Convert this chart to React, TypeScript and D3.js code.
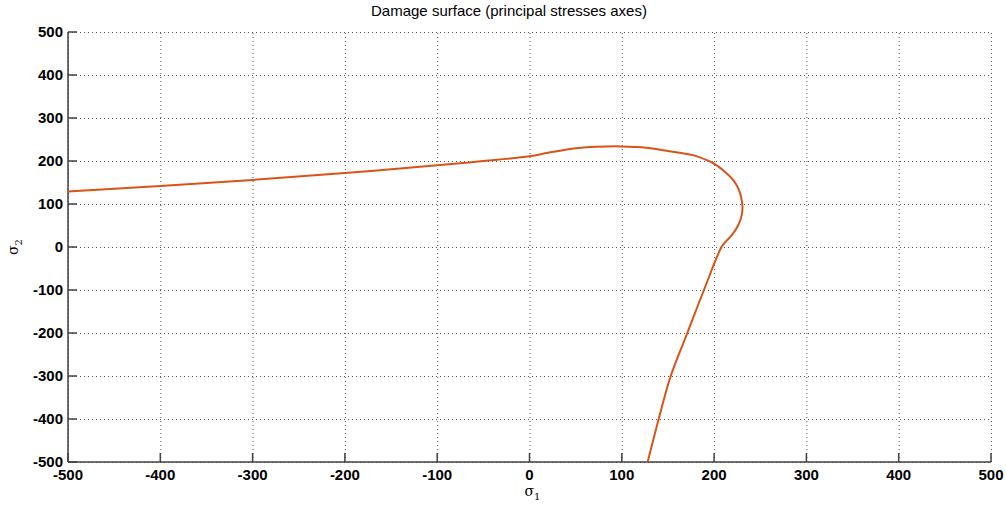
import React from "react";
import * as d3 from "d3";

// curve, from the left end round to the bottom
const sigma1 = [-500, -400, -300, -200, -100, -50, 0, 20, 48, 73, 99, 127, 142, 163, 178, 192, 199, 210, 221, 227, 230.5, 230, 226, 219, 212, 208, 189, 171, 153, 140, 128];
const sigma2 = [129, 142, 156, 172, 190, 200, 211, 219, 229, 233, 234, 231, 226, 219, 213, 202, 195, 178, 155, 132, 101, 74, 50, 27, 11, 0, -100, -200, -300, -400, -500];

const xTicks = [-500, -400, -300, -200, -100, 0, 100, 200, 300, 400, 500];
const yTicks = [-500, -400, -300, -200, -100, 0, 100, 200, 300, 400, 500];

const W = 1006;
const H = 506;
const margin = { top: 32, right: 15, bottom: 44, left: 68 };

export default function App() {
  const x = d3.scaleLinear().domain([-500, 500]).range([margin.left, W - margin.right]);
  const y = d3.scaleLinear().domain([-500, 500]).range([H - margin.bottom, margin.top]);

  const pts: [number, number][] = sigma1.map((s, i) => [s, sigma2[i]]);
  const line = d3
    .line<[number, number]>()
    .x((d) => x(d[0]))
    .y((d) => y(d[1]))
    .curve(d3.curveCatmullRom.alpha(0.5));

  const x0 = margin.left;
  const x1 = W - margin.right;
  const y0 = H - margin.bottom;
  const y1 = margin.top;
  const tickLen = 9;
  const font = "'Liberation Sans', Arial, sans-serif";

  return (
    <svg
      width={W}
      height={H}
      style={{ position: "absolute", left: 0, top: 0, background: "#fff" }}
    >
      {/* grid */}
      <g stroke="#555" strokeWidth={1} strokeDasharray="1,3">
        {xTicks.map((t) => (
          <line key={"gx" + t} x1={x(t) + 0.5} x2={x(t) + 0.5} y1={y0} y2={y1} />
        ))}
        {yTicks.map((t) => (
          <line key={"gy" + t} x1={x0} x2={x1} y1={y(t) + 0.5} y2={y(t) + 0.5} />
        ))}
      </g>

      {/* axes */}
      <g stroke="#404040" strokeWidth={1.5}>
        <line x1={x0} x2={x0} y1={y1} y2={y0} />
        <line x1={x0} x2={x1} y1={y0} y2={y0} />
        {xTicks.map((t) => (
          <line key={"tx" + t} x1={x(t)} x2={x(t)} y1={y0} y2={y0 - tickLen} />
        ))}
        {yTicks.map((t) => (
          <line key={"ty" + t} x1={x0} x2={x0 + tickLen} y1={y(t)} y2={y(t)} />
        ))}
      </g>

      {/* tick labels */}
      <g fontFamily={font} fontWeight="bold" fontSize={15} fill="#000">
        {xTicks.map((t) => (
          <text key={"lx" + t} x={x(t)} y={y0 + 18} textAnchor="middle">
            {t}
          </text>
        ))}
        {yTicks.map((t) => (
          <text key={"ly" + t} x={x0 - 5} y={y(t) + 5} textAnchor="end">
            {t}
          </text>
        ))}
      </g>

      {/* curve */}
      <path d={line(pts) ?? ""} fill="none" stroke="#D95319" strokeWidth={2} />

      {/* title */}
      <text
        x={509}
        y={16}
        textAnchor="middle"
        fontFamily={font}
        fontSize={15}
        fill="#000"
      >
        Damage surface (principal stresses axes)
      </text>

      {/* axis labels */}
      <text x={(x0 + x1) / 2 + 3} y={y0 + 34} fontFamily="'DejaVu Serif', serif" fontSize={14} fill="#000" textAnchor="middle">
        σ<tspan fontSize={10} dy={4}>1</tspan>
      </text>
      <text
        transform={`translate(18, ${(y0 + y1) / 2}) rotate(-90)`}
        fontFamily="'DejaVu Serif', serif"
        fontSize={14}
        fill="#000"
        textAnchor="middle"
      >
        σ<tspan fontSize={10} dy={4}>2</tspan>
      </text>
    </svg>
  );
}
